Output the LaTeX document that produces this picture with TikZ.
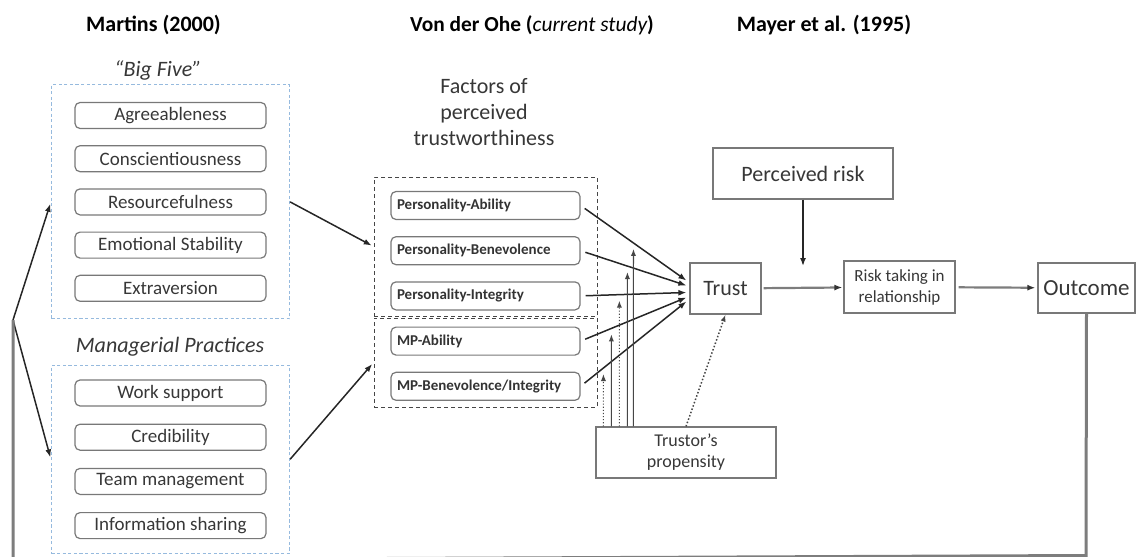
\documentclass[tikz,border=0pt]{standalone}
\usepackage{fontspec}
\setmainfont{Carlito}
\usepackage{tikz}
\usetikzlibrary{arrows.meta,positioning,fit,calc}
\definecolor{mfblue}{RGB}{150,186,222}
\definecolor{mfgray}{RGB}{120,120,120}
\definecolor{mfdark}{RGB}{70,70,70}
\definecolor{mftext}{RGB}{55,55,55}
\definecolor{mfline}{RGB}{125,125,125}
\tikzset{
  item/.style={
    draw=mfgray, line width=0.6pt, rounded corners=2.5pt,
    minimum width=95.5pt, minimum height=13pt, inner sep=1pt,
    text=mftext, font=\fontsize{9.5}{11}\selectfont
  },
  fac/.style={
    draw=mfgray, line width=0.6pt, rounded corners=2.5pt,
    minimum height=14pt, text width=88.5pt, inner xsep=3pt, inner ysep=1pt,
    align=left, text=black!80, font=\fontsize{7.5}{9}\selectfont\bfseries
  },
  blk/.style={
    draw=mfgray, line width=0.6pt, align=center, inner sep=1pt,
    text=mftext
  },
  grp/.style={draw=mfblue, line width=0.5pt, dash pattern=on 1.6pt off 1.2pt},
  facgrp/.style={draw=mfdark, line width=0.5pt, dash pattern=on 2pt off 1.5pt, inner sep=0pt},
  hdr/.style={font=\fontsize{11}{13}\selectfont\bfseries},
  lbl/.style={font=\fontsize{11}{13}\selectfont\itshape, text=mftext},
  arr/.style={-{Latex[length=4pt,width=3pt]}, draw=black!85, line width=0.75pt},
  mod/.style={-{Latex[length=3.5pt,width=2.6pt]}, draw=mfdark, line width=0.55pt, shorten >=3pt},
  dmod/.style={mod, densely dotted},
  darr/.style={-{Latex[length=3.5pt,width=2.6pt]}, draw=mfdark, line width=0.75pt, densely dotted},
  garr/.style={-{Latex[length=4pt,width=3pt,color=black!80]}, draw=mfline, line width=1.1pt},
  fb/.style={draw=mfline, line width=1.5pt}
}

\begin{document}
\begin{tikzpicture}[x=0.5pt, y=-0.5pt, node distance=8pt]
  \useasboundingbox (0,0) rectangle (1137,557);
  \clip (0,0) rectangle (1137,557);

  % headings
  \node[hdr] (hmart) at (153.5,25) {Martins (2000)};
  \node[hdr, font=\fontsize{10.7}{13}\selectfont\bfseries] (hohe) at (532,25) {Von der Ohe ({\mdseries\itshape current study})};
  \node[hdr] (hmay) at (824,25) {Mayer et al. (1995)};

  % Martins: big five and managerial practices
  \node[lbl] (lbig) at (158,70) {“Big Five”};
  \node[item] (b1) at (170.5,115.5) {Agreeableness};
  \node[item, below=of b1] (b2) {Conscientiousness};
  \node[item, below=of b2] (b3) {Resourcefulness};
  \node[item, below=of b3] (b4) {Emotional Stability};
  \node[item, below=of b4] (b5) {Extraversion};
  \node[grp, fit=(b1)(b5), inner xsep=11.5pt, inner ysep=8.5pt] (bigfive) {};

  \node[lbl] (lmp) at (170,347) {Managerial Practices};
  \node[item] (w1) at (170.5,393) {Work support};
  \node[item, below=8.5pt of w1] (w2) {Credibility};
  \node[item, below=8.5pt of w2] (w3) {Team management};
  \node[item, below=8.5pt of w3] (w4) {Information sharing};
  \node[grp, fit=(w1)(w4), inner xsep=11.5pt, inner ysep=7pt] (mpgrp) {};

  % factors of perceived trustworthiness
  \node[align=center, text=mftext, font=\fontsize{11}{13}\selectfont] (lfac) at (484,112)
    {Factors of\\perceived\\trustworthiness};
  \node[fac] (pa) at (485.5,205.5) {Personality-Ability};
  \node[fac, below=of pa] (pb) {Personality-Benevolence};
  \node[fac, below=of pb] (pi) {Personality-Integrity};
  \node[fac, below=of pi] (ma) {MP-Ability};
  \node[fac, below=of ma] (mb) {MP-Benevolence/Integrity};
  \node[facgrp, fit={(374,177) (597,316)}] (persgrp) {};
  \node[facgrp, fit={(374,318) (597,407)}] (mpfgrp) {};

  % Mayer et al.
  \node[blk, minimum width=35.5pt, minimum height=25.5pt, font=\fontsize{11}{13}\selectfont] (trust) at (725.5,288.5) {Trust};
  \node[blk, minimum width=90pt, minimum height=25.5pt, font=\fontsize{11}{13}\selectfont] (prisk) at (803,173.5) {Perceived risk};
  \node[blk, minimum width=55.5pt, minimum height=26pt, font=\fontsize{8.5}{10.5}\selectfont] (risk) at (899.5,287) {Risk taking in\\relationship};
  \node[blk, minimum width=48.5pt, minimum height=25pt, font=\fontsize{11.5}{13}\selectfont] (outcome) at (1086.5,288) {Outcome};
  \node[blk, minimum width=90pt, minimum height=25.5pt, font=\fontsize{9}{10.5}\selectfont] (prop) at (686,452.5) {Trustor’s\\propensity};

  \coordinate (split) at (13,320);
  \coordinate (t1) at ([xshift=-1.5pt, yshift=4pt]trust.west);
  \coordinate (t2) at ([xshift=-1.5pt, yshift=1.5pt]trust.west);
  \coordinate (t3) at ([xshift=-1.5pt, yshift=-2pt]trust.west);
  \coordinate (t4) at ([xshift=-1.5pt, yshift=-4.5pt]trust.west);
  \coordinate (t5) at ([xshift=-1.5pt, yshift=-6.5pt]trust.west);
  \coordinate (rmod) at (803,266);

  % connectors
  \draw[arr, shorten >=1pt] (split) -- (bigfive.west);
  \draw[arr, shorten >=1pt] (split) -- (mpgrp.west);
  \draw[arr, shorten >=1pt] (bigfive.east) -- (persgrp.west);
  \draw[arr, shorten >=1pt] (mpgrp.east) -- (mpfgrp.west);
  \foreach \f/\t in {pa/t1, pb/t2, pi/t3, ma/t4, mb/t5}
    \draw[arr, shorten <=2.5pt] (\f.east) -- (\t);

  % propensity acts on every factor link
  \foreach \dx/\f/\t/\s in {4/mb/t5/dmod, 8/ma/t4/mod, 12/pi/t3/dmod, 16/pb/t2/mod, 19/pa/t1/mod}{
    \coordinate (ms) at ([xshift=\dx pt]prop.north west);
    \coordinate (mt) at (ms |- pa.north);
    \coordinate (ls) at (\f.east);
    \coordinate (le) at (\t);
    \draw[\s] (ms) -- (intersection of ms--mt and ls--le);
  }
  \draw[darr] (prop.north) -- (trust.south);

  \draw[arr] (prisk.south) -- (rmod);
  \draw[garr, shorten <=1pt, shorten >=0.5pt] (trust) -- (risk);
  \draw[garr, shorten <=1.5pt, shorten >=1pt] (risk) -- (outcome);
  \draw[fb] (outcome.south) -- (1086,555.5) -- (13,560.1) -- (split);
\end{tikzpicture}
\end{document}
